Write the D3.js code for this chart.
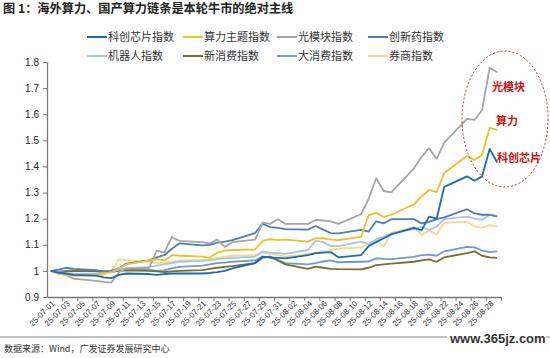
<!DOCTYPE html>
<html><head><meta charset="utf-8">
<script src="https://cdn.jsdelivr.net/npm/d3@7"></script>
<style>
body{margin:0;background:#fff;}
svg{display:block;}
</style></head>
<body>
<svg id="c" width="550" height="358"></svg>
<script>
// ---- data ----
const dates = ["2025-07-01","2025-07-02","2025-07-03","2025-07-04","2025-07-07","2025-07-08","2025-07-09","2025-07-10","2025-07-11",
"2025-07-14","2025-07-15","2025-07-16","2025-07-17","2025-07-18","2025-07-21","2025-07-22","2025-07-23","2025-07-24","2025-07-25",
"2025-07-28","2025-07-29","2025-07-30","2025-07-31","2025-08-01","2025-08-04","2025-08-05","2025-08-06","2025-08-07","2025-08-08",
"2025-08-11","2025-08-12","2025-08-13","2025-08-14","2025-08-15","2025-08-18","2025-08-19","2025-08-20","2025-08-21","2025-08-22",
"2025-08-25","2025-08-26","2025-08-27","2025-08-28","2025-08-29"];

const kcChip = [1.000,0.993,0.990,0.985,0.982,0.975,0.972,0.985,0.990,
0.988,0.985,0.988,0.990,0.990,0.990,0.992,0.995,1.000,1.010,
1.030,1.055,1.052,1.050,1.048,1.060,1.068,1.070,1.072,1.052,
1.060,1.095,1.110,1.125,1.140,1.165,1.155,1.208,1.200,1.322,
1.362,1.345,1.362,1.467,1.415];
const computing = [1.000,0.990,0.985,0.982,0.985,0.990,0.995,1.010,1.025,
1.040,1.045,1.040,1.060,1.058,1.055,1.050,1.070,1.078,1.080,
1.082,1.115,1.122,1.118,1.120,1.112,1.125,1.125,1.120,1.118,
1.130,1.213,1.222,1.207,1.215,1.255,1.285,1.310,1.302,1.375,
1.440,1.425,1.445,1.548,1.540];
const opticalModule = [1.000,0.990,0.985,0.970,0.962,0.958,0.955,0.995,1.010,
1.012,1.078,1.070,1.130,1.115,1.110,1.105,1.120,1.092,1.110,
1.120,1.185,1.180,1.198,1.180,1.180,1.195,1.193,1.190,1.180,
1.217,1.275,1.355,1.306,1.301,1.393,1.437,1.470,1.429,1.491,
1.582,1.578,1.616,1.778,1.761];
const innovDrug = [1.000,1.005,1.012,1.008,1.003,0.998,1.000,1.010,1.028,
1.040,1.052,1.060,1.085,1.105,1.098,1.100,1.108,1.112,1.118,
1.145,1.180,1.168,1.165,1.160,1.158,1.172,1.158,1.145,1.144,
1.157,1.150,1.190,1.182,1.198,1.198,1.182,1.188,1.198,1.205,
1.236,1.220,1.215,1.215,1.208];
const robot = [1.000,0.995,0.992,0.990,0.988,0.992,0.995,1.005,1.010,
1.015,1.020,1.025,1.030,1.035,1.038,1.040,1.045,1.048,1.050,
1.055,1.075,1.070,1.068,1.065,1.080,1.116,1.110,1.095,1.095,
1.112,1.103,1.121,1.130,1.144,1.160,1.169,1.157,1.170,1.198,
1.208,1.200,1.195,1.215,1.210];
const newConsumption = [1.000,0.995,0.998,1.000,0.998,0.995,0.996,1.000,1.002,
1.000,0.998,0.995,0.998,1.000,1.003,1.008,1.012,1.015,1.018,
1.030,1.050,1.055,1.040,1.025,1.008,1.016,1.012,1.008,1.007,
1.006,1.012,1.022,1.025,1.028,1.035,1.040,1.044,1.035,1.052,
1.068,1.075,1.058,1.052,1.050];
const bigConsumption = [1.000,0.998,1.000,1.002,1.000,0.998,1.000,1.005,1.008,
1.005,1.000,1.002,1.010,1.015,1.020,1.025,1.030,1.032,1.035,
1.040,1.055,1.050,1.042,1.030,1.025,1.030,1.036,1.040,1.033,
1.035,1.036,1.048,1.046,1.045,1.054,1.060,1.062,1.058,1.075,
1.092,1.090,1.078,1.072,1.075];
const broker = [1.000,0.990,0.985,0.982,0.980,0.985,1.000,1.045,1.040,
1.035,1.030,1.032,1.035,1.040,1.042,1.045,1.050,1.055,1.058,
1.060,1.070,1.065,1.060,1.055,1.065,1.070,1.075,1.080,1.085,
1.090,1.105,1.118,1.093,1.146,1.169,1.138,1.154,1.140,1.185,
1.188,1.170,1.165,1.175,1.170];

const seriesNames = ["科创芯片指数","算力主题指数","光模块指数","创新药指数","机器人指数","新消费指数","大消费指数","券商指数"];
const seriesValues = [kcChip, computing, opticalModule, innovDrug, robot, newConsumption, bigConsumption, broker];
const seriesColors = ["#1a6cb6","#f0bf2c","#a6a6a6","#4d7cbf","#a9c5e6","#7c6e2f","#7199d2","#f6d88c"];
const drawOrder = [7,6,5,4,3,2,1,0];
const yTicks = [0.9,1.0,1.1,1.2,1.3,1.4,1.5,1.6,1.7,1.8];
const titleText = "图 1：海外算力、国产算力链条是本轮牛市的绝对主线";
const sourceText = "数据来源：Wind，广发证券发展研究中心";
const annotations = ["光模块","算力","科创芯片"];

// ---- chart ----
const svg = d3.select("#c");
const parse = d3.utcParse("%Y-%m-%d");
const dts = dates.map(parse);
const DAY = 864e5;
const X0 = 47, X1 = 501;
const x0 = new Date(dts[0].getTime() - DAY/2), x1 = new Date(dts[dts.length-1].getTime() + DAY/2);
const x = d3.scaleUtc().domain([x0, x1]).range([X0, X1]);
const y = d3.scaleLinear().domain([0.9, 1.8]).range([297, 62]);
const cjk = "'Noto Sans CJK SC','Noto Sans',sans-serif";
const lat = "'Liberation Sans',Arial,sans-serif";

svg.append("text").attr("x",3).attr("y",13).text(titleText)
  .attr("font-family",cjk).attr("font-weight","bold").attr("font-size",12.2).attr("fill","#222");

// lines
const line = d3.line().x((d,i)=>x(dts[i])).y(d=>y(d));
drawOrder.forEach(k=>{
  svg.append("path").datum(seriesValues[k]).attr("d",line)
    .attr("fill","none").attr("stroke",seriesColors[k]).attr("stroke-width",1.8)
    .attr("stroke-linejoin","round");
});

// y axis
const ya = svg.append("g").attr("transform",`translate(${X0},0)`)
  .call(d3.axisLeft(y).tickValues(yTicks).tickSize(4).tickSizeOuter(0)
    .tickFormat(d=> Math.abs(d-1)<1e-9 ? "1" : d3.format(".1f")(d)));
ya.select(".domain").attr("stroke","#777").attr("stroke-width",1.3);
ya.selectAll(".tick line").attr("stroke","#777");
ya.selectAll("text").attr("font-family",lat).attr("font-size",10).attr("fill","#222").attr("dx",-1);

// x axis tick marks (slot boundaries every 2 days)
const tickDates = d3.range(1,31).map(k=> new Date(dts[0].getTime() + (2*k-0.5)*DAY));
const xa = svg.append("g").attr("transform","translate(0,297)")
  .call(d3.axisBottom(x).tickValues(tickDates).tickSize(4).tickSizeOuter(0).tickFormat(""));
xa.select(".domain").attr("stroke","#777").attr("stroke-width",1.3);
xa.selectAll(".tick line").attr("stroke","#777");
// labels
const labelDates = d3.range(0,30).map(k=> new Date(dts[0].getTime() + 2*k*DAY));
const fmt = d3.utcFormat("%y-%m-%d");
const xl = svg.append("g").attr("transform","translate(0,297)")
  .call(d3.axisBottom(x).tickValues(labelDates).tickSize(0).tickFormat(fmt));
xl.select(".domain").remove();
xl.selectAll("text").attr("font-family",lat).attr("font-size",8).attr("fill","#333")
  .attr("text-anchor","end").attr("dy",0).attr("y",0)
  .attr("transform","translate(4,7) rotate(-45)");

// legend
const legCols = [108, 204, 298, 389];
const legRows = [37, 56];
seriesNames.forEach((n,i)=>{
  const cx = legCols[i%4], cy = legRows[Math.floor(i/4)];
  svg.append("line").attr("x1",cx-21).attr("x2",cx-1).attr("y1",cy).attr("y2",cy)
    .attr("stroke",seriesColors[i]).attr("stroke-width",2);
  svg.append("text").attr("x",cx).attr("y",cy+4).text(n)
    .attr("font-family",cjk).attr("font-size",11).attr("fill","#333");
});

// annotation ellipse
svg.append("ellipse").attr("cx",505).attr("cy",119).attr("rx",43).attr("ry",68)
  .attr("fill","none").attr("stroke","#e02020").attr("stroke-width",1).attr("stroke-dasharray","2,2");
const annPos = [[492,91],[496,125],[497,162]];
annotations.forEach((t,i)=>{
  svg.append("text").attr("x",annPos[i][0]).attr("y",annPos[i][1]).text(t)
    .attr("font-family",cjk).attr("font-weight","bold").attr("font-size",11).attr("fill","#d01010");
});

// footer
svg.append("line").attr("x1",0).attr("x2",550).attr("y1",337).attr("y2",337).attr("stroke","#888").attr("stroke-width",1);
svg.append("rect").attr("x",447).attr("y",330).attr("width",99).attr("height",16).attr("fill","#fff");
svg.append("text").attr("x",450).attr("y",343).text("www.365jz.com")
  .attr("font-family",lat).attr("font-weight","bold").attr("font-size",13).attr("fill","#333");
svg.append("text").attr("x",4).attr("y",352).text(sourceText)
  .attr("font-family",cjk).attr("font-size",9).attr("fill","#333");
</script>
</body></html>
